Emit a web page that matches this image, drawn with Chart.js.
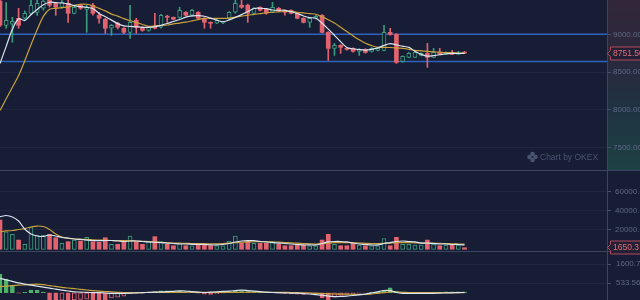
<!DOCTYPE html>
<html>
<head>
<meta charset="utf-8">
<script src="https://cdn.jsdelivr.net/npm/chart.js@4.4.1/dist/chart.umd.min.js"></script>
<style>
  html, body { margin: 0; padding: 0; background: #161d34; overflow: hidden; }
  #wrap { position: relative; width: 640px; height: 300px; }
  canvas { position: absolute; left: 0; }
</style>
</head>
<body>
<div id="wrap">
  <canvas id="priceCanvas" width="640" height="171" style="top:0"></canvas>
  <canvas id="volCanvas" width="640" height="84" style="top:171px"></canvas>
  <canvas id="macdCanvas" width="640" height="49" style="top:251px"></canvas>
</div>
<script>
// colours
const BG = '#161d34';
const UP = '#3a9c7c';
const DOWN = '#e2636e';
const MACD_UP = '#4fb26a';
const MA_WHITE = '#dbe3ee';
const MA_GOLD = '#c8a23d';
const LEVEL = '#2f63bd';
const SEP = '#3b4560';
const LABEL = '#5f6983';
const FONT = 'Liberation Sans';

// time slots (candles + empty space on the right)
const labels = Array.from({ length: 99 }, (_, i) => String(i + 1));

// candles
const openP = [9440, 9119, 9133, 9212, 9212, 9278, 9290, 9345, 9450, 9410,
  9358, 9410, 9278, 9385, 9330, 9385, 9252, 9199, 9080, 9146,
  9080, 9026, 9186, 9093, 9053, 9093, 9093, 9239, 9225, 9225,
  9292, 9252, 9292, 9212, 9159, 9146, 9150, 9212, 9292, 9385,
  9385, 9278, 9358, 9330, 9292, 9345, 9318, 9318, 9278, 9212,
  9159, 9212, 9252, 9026, 8814, 8854, 8814, 8814, 8775, 8800,
  8775, 8788, 8788, 9026, 9000, 8642, 8695, 8695, 8722, 8748,
  8695, 8761, 8735, 8761, 8735, 8762];
const highP = [9460, 9420, 9225, 9345, 9310, 9450, 9450, 9455, 9460, 9420,
  9450, 9450, 9370, 9400, 9385, 9410, 9290, 9212, 9130, 9160,
  9090, 9385, 9212, 9100, 9100, 9278, 9265, 9252, 9230, 9358,
  9300, 9330, 9300, 9220, 9165, 9195, 9175, 9300, 9451, 9450,
  9400, 9355, 9365, 9340, 9424, 9355, 9325, 9325, 9285, 9220,
  9220, 9250, 9260, 9035, 8880, 8865, 8820, 8820, 8810, 8810,
  8825, 8820, 9119, 9080, 9010, 8715, 8760, 8788, 8755, 8880,
  8814, 8814, 8770, 8788, 8775, 8775];
const lowP = [9100, 9080, 8894, 9080, 9200, 9260, 9250, 9320, 9360, 9252,
  9345, 9159, 9270, 9330, 9026, 9252, 9146, 9013, 8987, 9070,
  9010, 8947, 9013, 9040, 9040, 9070, 9080, 9159, 9190, 9212,
  9245, 9240, 9200, 9080, 9080, 9140, 9140, 9200, 9280, 9345,
  9159, 9270, 9310, 9265, 9285, 9300, 9252, 9270, 9205, 9150,
  9093, 9205, 9020, 8655, 8722, 8748, 8790, 8765, 8722, 8750,
  8765, 8780, 8780, 8987, 8615, 8630, 8690, 8690, 8715, 8562,
  8690, 8730, 8730, 8730, 8730, 8745];
const closeP = [9120, 9186, 9172, 9119, 9278, 9385, 9410, 9440, 9385, 9358,
  9424, 9278, 9358, 9345, 9358, 9278, 9212, 9080, 9119, 9093,
  9026, 9159, 9093, 9053, 9093, 9080, 9252, 9225, 9199, 9318,
  9252, 9318, 9212, 9159, 9146, 9186, 9165, 9292, 9410, 9358,
  9278, 9345, 9318, 9278, 9358, 9305, 9292, 9278, 9212, 9159,
  9212, 9239, 9026, 8814, 8854, 8828, 8800, 8775, 8800, 8761,
  8814, 8814, 9026, 9000, 8629, 8708, 8748, 8761, 8748, 8695,
  8761, 8735, 8761, 8735, 8748, 8751.5];
const ma5 = [8615, 8841, 9066, 9205, 9183, 9259, 9328, 9390, 9424, 9419,
  9414, 9403, 9379, 9366, 9357, 9341, 9277, 9232, 9188, 9142,
  9111, 9106, 9099, 9093, 9093, 9102, 9119, 9143, 9170, 9196,
  9228, 9244, 9248, 9239, 9215, 9187, 9165, 9191, 9224, 9261,
  9301, 9342, 9345, 9339, 9322, 9318, 9318, 9301, 9276, 9243,
  9221, 9213, 9146, 9069, 8987, 8903, 8826, 8809, 8798, 8792,
  8800, 8820, 8854, 8876, 8860, 8843, 8828, 8777, 8735, 8711,
  8719, 8730, 8743, 8748, 8748, 8748];
const ma10 = [7992, 8147, 8299, 8454, 8651, 8862, 9061, 9237, 9332, 9343,
  9354, 9362, 9382, 9398, 9398, 9377, 9343, 9310, 9267, 9241,
  9208, 9179, 9158, 9130, 9106, 9111, 9117, 9123, 9137, 9149,
  9162, 9178, 9195, 9211, 9212, 9212, 9212, 9215, 9228, 9240,
  9253, 9263, 9274, 9285, 9292, 9297, 9302, 9303, 9292, 9284,
  9274, 9266, 9231, 9193, 9150, 9093, 9036, 8980, 8927, 8881,
  8850, 8828, 8828, 8826, 8821, 8814, 8802, 8788, 8782, 8775,
  8769, 8764, 8759, 8756, 8752, 8748];
// drawn horizontal levels
const levelLines = [9000, 8640];
const priceTicks = [9000, 8500, 8000, 7500];

// volume
const volume = [30350, 18200, 15500, 9600, 5200, 22400, 14800, 14800, 15500, 12000,
  6200, 7900, 9600, 8600, 12400, 7900, 7200, 12000, 5200, 5200,
  8600, 13800, 7900, 5200, 7900, 13100, 7900, 5200, 3700, 6200,
  3700, 3700, 4400, 5200, 3700, 3700, 3700, 8600, 13800, 6200,
  8600, 6200, 6200, 6200, 7900, 5200, 3700, 3700, 5200, 4400,
  3700, 3700, 9600, 15500, 5200, 3700, 3700, 6200, 4400, 3700,
  3700, 3700, 11000, 3700, 12400, 5200, 5200, 4400, 4400, 9600,
  5200, 3700, 4400, 5200, 4400, 1650.3];
const volMa5 = [33800, 35000, 33500, 29300, 21000, 15800, 13800, 13300, 14800, 13800,
  12200, 11700, 10700, 10200, 9600, 9100, 8900, 9100, 9100, 8600,
  8100, 8600, 8600, 8100, 7600, 7300, 7000, 6500, 6000, 5500,
  5500, 5200, 5000, 5000, 4500, 4500, 5000, 6000, 7600, 8600,
  8900, 8900, 8100, 7600, 7000, 6500, 6000, 5500, 5000, 4500,
  4500, 4500, 6000, 7600, 8100, 8100, 7600, 6500, 5500, 5000,
  4500, 4500, 6000, 7000, 8100, 8600, 8100, 7600, 6500, 6500,
  6000, 5500, 5500, 5000, 5000, 4500];
const volMa10 = [18200, 19000, 19500, 20500, 21500, 23100, 24100, 23600, 20500, 15800,
  12700, 11400, 10700, 10400, 10200, 9800, 9600, 9400, 9100, 9100,
  9000, 8800, 8600, 8300, 8000, 7600, 7100, 6800, 6500, 6300,
  6200, 6000, 5900, 5800, 5700, 5700, 5900, 6300, 6800, 7300,
  7600, 7800, 7900, 7800, 7600, 7400, 7000, 6700, 6300, 6000,
  5700, 5500, 5900, 6500, 6900, 7000, 6900, 6700, 6500, 6200,
  6000, 5900, 6200, 6500, 6900, 7000, 6900, 6700, 6500, 6500,
  6300, 6100, 5900, 5700, 5500, 5300];
const volTicks = [60000, 40000, 20000];

// MACD
const macdHist = [1050, 770, 400, -20, 20, 150, 130, 30, -450, -450,
  -420, -450, -400, -380, -360, -420, -440, -460, -300, -250,
  -200, -60, -40, -20, 40, 60, 100, 110, 60, 90,
  60, 20, -30, -80, -90, -60, -20, 60, 120, 110,
  70, 40, 30, 20, 20, -20, -40, -60, -80, -90,
  -60, -70, -300, -500, -250, -150, -100, -60, -30, -10,
  20, 50, 150, 280, 90, 20, -20, -30, -10, 10,
  30, 40, 50, 50, 50, 40];
const macdDif = [810, 720, 635, 550, 483, 427, 371, 315, 253, 202,
  146, 96, 51, 34, 17, 6, 0, -17, -34, -34,
  -34, -28, -11, 6, 17, 28, 45, 56, 79, 101,
  96, 62, 34, 11, 28, 51, 73, 90, 118, 146,
  118, 84, 56, 28, 11, 0, -11, -22, -28, -51,
  -73, -107, -140, -191, -219, -214, -191, -157, -118, -79,
  -17, 51, 124, 118, 11, -34, -34, -34, -34, -34,
  -34, -22, -11, -6, 6, 17];
const macdDea = [340, 365, 393, 421, 444, 466, 483, 450, 399, 354,
  303, 264, 225, 191, 152, 118, 90, 67, 45, 22,
  0, 6, 8, 10, 12, 14, 16, 18, 20, 22,
  24, 24, 22, 20, 18, 18, 18, 20, 22, 25,
  28, 28, 26, 24, 22, 20, 17, 10, 0, -6,
  -17, -34, -45, -62, -73, -79, -84, -90, -96, -101,
  -73, -34, 6, 45, 39, 22, 11, 0, 2, 4,
  6, 6, 6, 6, 6, 6];
const macdTicks = [1600.71, 533.56];

const isUp = closeP.map((c, i) => c >= openP[i]);

function xAxis() {
  return { type: 'category', display: false, offset: false, grid: { display: false } };
}

function yAxis(min, max, ticks, fmt, pad) {
  return {
    position: 'right',
    min: min,
    max: max,
    afterBuildTicks: s => { s.ticks = ticks.map(v => ({ value: v })); },
    afterFit: s => { s.width = 33; s.paddingTop = 0; s.paddingBottom = 0; },
    grid: { color: 'rgba(255,255,255,0.045)', tickColor: '#454f6a', tickLength: 4 },
    border: { color: SEP },
    ticks: { color: LABEL, font: { family: FONT, size: 8 }, padding: pad, autoSkip: false, callback: fmt }
  };
}

function maLine(data, color, order) {
  return { type: 'line', data: data, borderColor: color, borderWidth: 1.2, pointRadius: 0, tension: 0.3, order: order };
}

function drawTag(ctx, x, y, text) {
  ctx.save();
  ctx.beginPath();
  ctx.moveTo(x + 0.5, y);
  ctx.lineTo(x + 3.5, y - 3);
  ctx.lineTo(x + 3.5, y - 6.5);
  ctx.lineTo(x + 45, y - 6.5);
  ctx.lineTo(x + 45, y + 6.5);
  ctx.lineTo(x + 3.5, y + 6.5);
  ctx.lineTo(x + 3.5, y + 3);
  ctx.closePath();
  ctx.fillStyle = '#231f35';
  ctx.fill();
  ctx.strokeStyle = '#b5485a';
  ctx.lineWidth = 1;
  ctx.stroke();
  ctx.fillStyle = '#e36c77';
  ctx.font = '8.5px "' + FONT + '"';
  ctx.textBaseline = 'middle';
  ctx.fillText(text, x + 6, y + 0.5);
  ctx.restore();
}

function hline(ctx, y, w) {
  ctx.save();
  ctx.strokeStyle = SEP;
  ctx.lineWidth = 1;
  ctx.beginPath();
  ctx.moveTo(0, y);
  ctx.lineTo(w, y);
  ctx.stroke();
  ctx.restore();
}

const common = {
  responsive: false,
  animation: false,
  events: [],
  layout: { padding: 0 },
  plugins: { legend: { display: false }, tooltip: { enabled: false } }
};

// price panel
const pricePanel = {
  id: 'pricePanel',
  beforeDraw(chart) {
    const { ctx, chartArea, width, height } = chart;
    const g = ctx.createLinearGradient(0, 0, 0, height);
    g.addColorStop(0, '#33263a');
    g.addColorStop(0.35, '#29293c');
    g.addColorStop(0.65, '#1f3342');
    g.addColorStop(1, '#1d4244');
    ctx.save();
    ctx.fillStyle = g;
    ctx.fillRect(chartArea.right, 0, width - chartArea.right, height);
    ctx.restore();
  },
  beforeDatasetsDraw(chart) {
    const ctx = chart.ctx;
    ctx.save();
    ctx.fillStyle = '#4a5370';
    const cx = 532.5, cy = 157;
    [[-3, 0], [3, 0], [0, -3], [0, 3]].forEach(([dx, dy]) => {
      ctx.beginPath();
      ctx.arc(cx + dx, cy + dy, 2.3, 0, Math.PI * 2);
      ctx.fill();
    });
    ctx.font = '8.5px "' + FONT + '"';
    ctx.textBaseline = 'middle';
    ctx.fillText('Chart by OKEX', 540, 157.5);
    ctx.restore();
  },
  afterDraw(chart) {
    hline(chart.ctx, 170.5, chart.width);
    const last = closeP.length - 1;
    const y = chart.scales.y.getPixelForValue(closeP[last]);
    drawTag(chart.ctx, chart.chartArea.right, Math.round(y) + 0.5, closeP[last].toFixed(2));
  }
};

new Chart(document.getElementById('priceCanvas'), {
  type: 'bar',
  data: {
    labels: labels,
    datasets: [
      { type: 'line', data: labels.map(() => levelLines[0]), borderColor: LEVEL, borderWidth: 1.5, pointRadius: 0, order: 7 },
      { type: 'line', data: labels.map(() => levelLines[1]), borderColor: LEVEL, borderWidth: 1.5, pointRadius: 0, order: 7 },
      {
        data: highP.map((h, i) => [lowP[i], h]),
        backgroundColor: isUp.map(u => u ? UP : DOWN),
        barThickness: 1, grouped: false, order: 5
      },
      {
        data: openP.map((o, i) => [o, closeP[i]]),
        backgroundColor: isUp.map(u => u ? BG : DOWN),
        borderColor: isUp.map(u => u ? UP : DOWN),
        borderWidth: isUp.map(u => u ? 1 : 0),
        borderSkipped: false, barThickness: 4, minBarLength: 1, grouped: false, order: 4
      },
      maLine(ma10, MA_GOLD, 3),
      maLine(ma5, MA_WHITE, 2)
    ]
  },
  options: Object.assign({}, common, {
    scales: {
      x: xAxis(),
      y: yAxis(7192, 9454, priceTicks, v => v.toFixed(2), 2)
    }
  }),
  plugins: [pricePanel]
});

// volume panel
const volPanel = {
  id: 'volPanel',
  afterDraw(chart) {
    hline(chart.ctx, 80.5, chart.width);
    const last = volume.length - 1;
    const y = chart.scales.y.getPixelForValue(volume[last]);
    drawTag(chart.ctx, chart.chartArea.right, Math.round(y) - 0.5, volume[last].toFixed(1));
  }
};

new Chart(document.getElementById('volCanvas'), {
  type: 'bar',
  data: {
    labels: labels,
    datasets: [
      {
        data: volume,
        backgroundColor: isUp.map(u => u ? BG : DOWN),
        borderColor: isUp.map(u => u ? UP : DOWN),
        borderWidth: isUp.map(u => u ? 1 : 0),
        borderSkipped: false, barThickness: 4, grouped: false, order: 4
      },
      maLine(volMa10, MA_GOLD, 3),
      maLine(volMa5, MA_WHITE, 2)
    ]
  },
  options: Object.assign({}, common, {
    scales: {
      x: xAxis(),
      y: yAxis(-5907, 81140, volTicks, v => v.toFixed(1), 4)
    }
  }),
  plugins: [volPanel]
});

// MACD panel
const macdFill = macdHist.map((v, i) => {
  if (v >= 0) return MACD_UP;
  return (i === 0 || v <= macdHist[i - 1]) ? DOWN : BG;
});

new Chart(document.getElementById('macdCanvas'), {
  type: 'bar',
  data: {
    labels: labels,
    datasets: [
      {
        data: macdHist,
        backgroundColor: macdFill,
        borderColor: macdHist.map(v => v >= 0 ? MACD_UP : DOWN),
        borderWidth: 1,
        borderSkipped: false, barThickness: 4, grouped: false, order: 4
      },
      maLine(macdDea, MA_GOLD, 3),
      maLine(macdDif, MA_WHITE, 2)
    ]
  },
  options: Object.assign({}, common, {
    scales: {
      x: xAxis(),
      y: yAxis(-410, 2344, macdTicks, v => v.toPrecision(5), 5)
    }
  })
});
</script>
</body>
</html>
